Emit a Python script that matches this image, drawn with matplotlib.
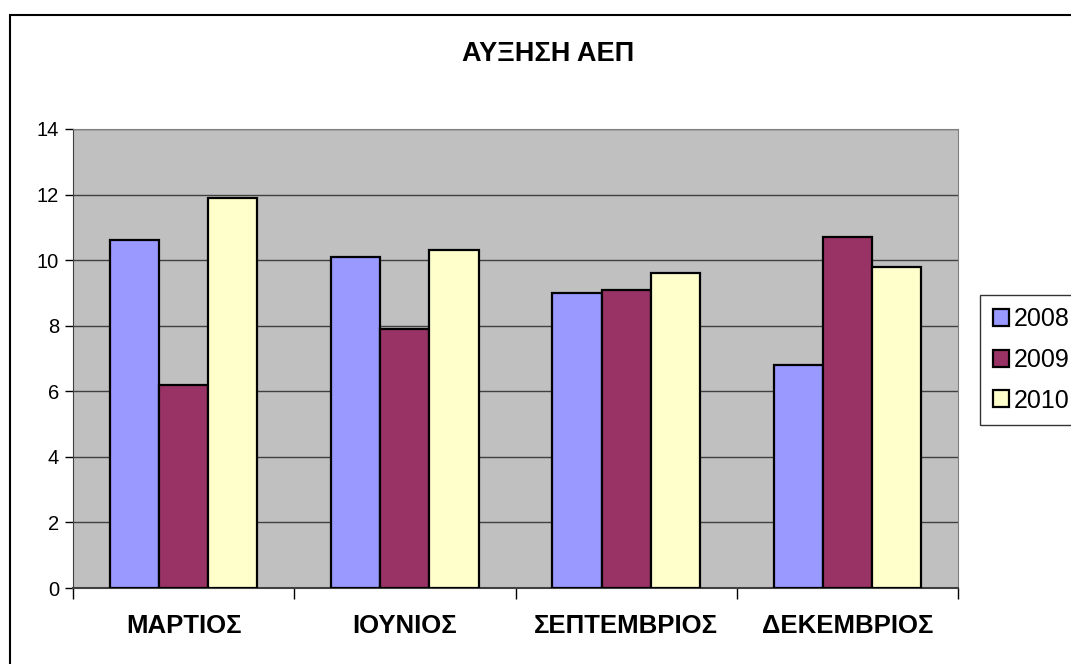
import matplotlib
matplotlib.use("Agg")
import matplotlib.pyplot as plt
import matplotlib.patches as mpatches
import numpy as np

plt.rcParams['font.family'] = ['Liberation Sans', 'DejaVu Sans']

# δεδομένα
months = ["ΜΑΡΤΙΟΣ", "ΙΟΥΝΙΟΣ", "ΣΕΠΤΕΜΒΡΙΟΣ", "ΔΕΚΕΜΒΡΙΟΣ"]
years = ["2008", "2009", "2010"]
v2008 = [10.6, 10.1, 9.0, 6.8]
v2009 = [6.2, 7.9, 9.1, 10.7]
v2010 = [11.9, 10.3, 9.6, 9.8]
colors = ["#9999FF", "#993366", "#FFFFCC"]

W, H = 1071, 664
fig = plt.figure(figsize=(W / 100, H / 100), dpi=100)
fig.patch.set_facecolor("white")

# πλαίσιο γραφήματος (κόβεται δεξιά και κάτω)
fig.patches.append(mpatches.Rectangle((10 / W, -0.1), 1.2, 1 - 15 / H + 0.1,
                                      transform=fig.transFigure, fill=False,
                                      edgecolor="black", linewidth=1.5))

ax = fig.add_axes([73 / W, 1 - 588 / H, (958 - 73) / W, (588 - 129) / H])
ax.set_facecolor("#C0C0C0")

x = np.arange(len(months))
bw = 2 / 3 / 3
bars = []
for i, vals in enumerate([v2008, v2009, v2010]):
    b = ax.bar(x + (i - 1) * bw, vals, bw, color=colors[i], edgecolor="black",
               linewidth=1.6, label=years[i], zorder=3)
    bars.append(b)

ax.set_xlim(-0.5, len(months) - 0.5)
ax.set_ylim(0, 14)
ax.set_yticks(range(0, 15, 2))
ax.tick_params(axis="y", labelsize=14.5, length=6, width=1, pad=4)
ax.yaxis.grid(True, color="#404040", linewidth=1, zorder=1)

# υποδιαιρέσεις στα όρια των κατηγοριών
ax.set_xticks(np.arange(-0.5, len(months), 1))
ax.set_xticklabels([])
ax.tick_params(axis="x", length=8, width=1)
ax.set_xticks(x, minor=True)
ax.set_xticklabels(months, minor=True, fontsize=18.5, fontweight="bold")
ax.tick_params(axis="x", which="minor", length=0, pad=19)

for s in ["top", "right"]:
    ax.spines[s].set_color("#808080")
ax.spines["left"].set_color("#404040")
ax.spines["bottom"].set_color("#404040")
ax.spines["bottom"].set_linewidth(1.5)

fig.text(548 / W, 1 - 54 / H, "ΑΥΞΗΣΗ ΑΕΠ", ha="center", va="center",
         fontsize=19.5, fontweight="bold")

leg = fig.legend(handles=bars, loc="upper left",
                 bbox_to_anchor=(980 / W, 1 - 295 / H), fontsize=18,
                 frameon=True, fancybox=False, edgecolor="black",
                 handlelength=0.65, handleheight=0.65, handletextpad=0.2,
                 labelspacing=0.66, borderpad=0.5, borderaxespad=0)
leg.get_frame().set_linewidth(1)

fig.savefig("out.png", dpi=100)
